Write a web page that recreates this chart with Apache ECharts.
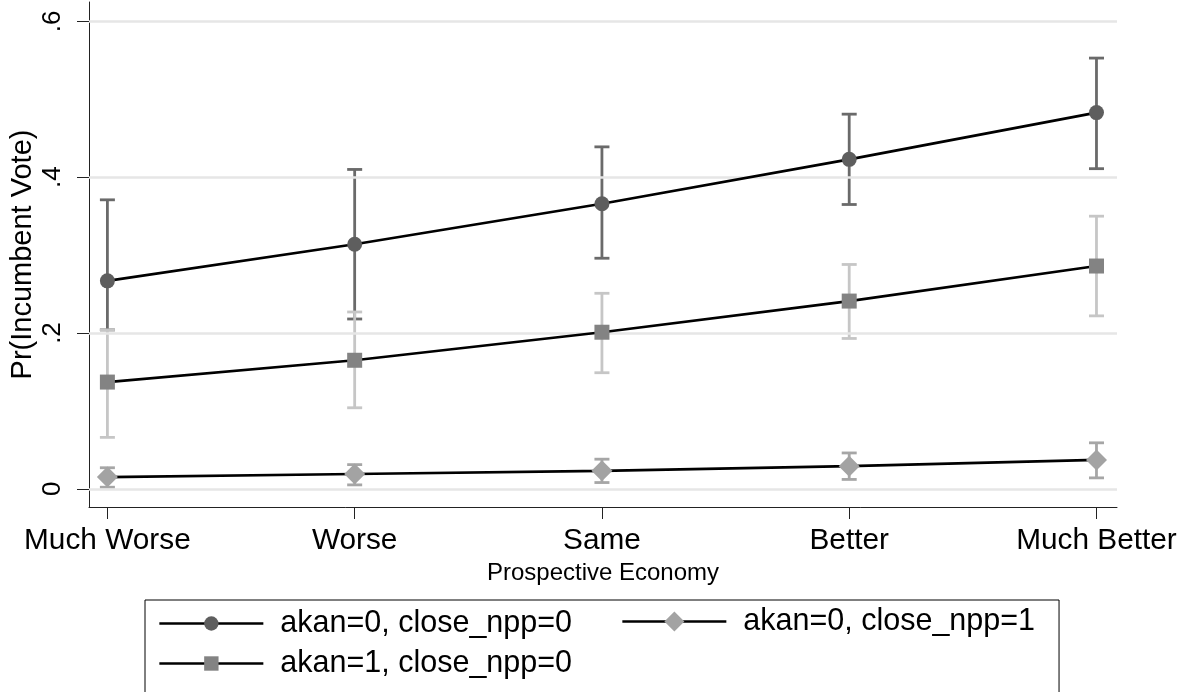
<!DOCTYPE html>
<html><head><meta charset="utf-8">
<script src="https://cdn.jsdelivr.net/npm/echarts@6/dist/echarts.min.js"></script>
<style>html,body{margin:0;padding:0;background:#fff}#c{width:1187px;height:692px}</style>
</head><body><div id="c"></div>
<script>
const categories = ['Much Worse', 'Worse', 'Same', 'Better', 'Much Better'];
const xPositions = [1, 2, 3, 4, 5];
const yTicks = [0, 0.2, 0.4, 0.6];
const yTickLabels = ['0', '.2', '.4', '.6'];

const names = ['akan=0, close_npp=0', 'akan=0, close_npp=1', 'akan=1, close_npp=0'];

// akan=0, close_npp=0 (circle)
const est00 = [0.267, 0.314, 0.366, 0.423, 0.483];
const lo00  = [0.204, 0.218, 0.296, 0.365, 0.411];
const hi00  = [0.371, 0.410, 0.439, 0.481, 0.553];
// akan=0, close_npp=1 (diamond)
const est01 = [0.015, 0.019, 0.023, 0.029, 0.037];
const lo01  = [0.002, 0.005, 0.008, 0.012, 0.014];
const hi01  = [0.027, 0.031, 0.038, 0.046, 0.059];
// akan=1, close_npp=0 (square)
const est10 = [0.137, 0.165, 0.201, 0.241, 0.286];
const lo10  = [0.066, 0.104, 0.149, 0.193, 0.222];
const hi10  = [0.204, 0.227, 0.251, 0.288, 0.350];

const FONT = '"Liberation Sans", Arial, sans-serif';

function pts(est) { return xPositions.map((x, i) => [x, est[i]]); }
function ci(lo, hi) { return xPositions.map((x, i) => [x, lo[i], hi[i]]); }

function ciRender(color) {
  return function (params, api) {
    const x = api.value(0), lo = api.value(1), hi = api.value(2);
    const a = api.coord([x, lo]), b = api.coord([x, hi]);
    const hw = 7.5;
    const style = { stroke: color, lineWidth: 2.8, fill: null };
    return { type: 'group', children: [
      { type: 'line', shape: { x1: a[0], y1: a[1], x2: b[0], y2: b[1] }, style: style },
      { type: 'line', shape: { x1: a[0] - hw, y1: a[1], x2: a[0] + hw, y2: a[1] }, style: style },
      { type: 'line', shape: { x1: b[0] - hw, y1: b[1], x2: b[0] + hw, y2: b[1] }, style: style }
    ]};
  };
}

function ciSeries(name, lo, hi, color, z) {
  return { type: 'custom', name: name, data: ci(lo, hi), renderItem: ciRender(color),
    encode: { x: 0, y: [1, 2] }, z: z, silent: true };
}
function lineSeries(name, est, symbol, size, color) {
  return { type: 'line', name: name, data: pts(est), symbol: symbol, symbolSize: size,
    itemStyle: { color: color }, lineStyle: { color: '#000', width: 2.7 }, z: 10,
    emphasis: { disabled: true }, silent: true };
}
function legendOf(name, left, top, itemHeight, padding, border) {
  return { data: [name], left: left, top: top, orient: 'horizontal',
    itemWidth: 104, itemHeight: itemHeight, selectedMode: false,
    borderColor: '#000', borderWidth: border ? 1 : 0, padding: padding,
    lineStyle: { width: 2.7, color: '#000' },
    textStyle: { fontSize: 30.5, color: '#000', fontFamily: FONT, padding: [0, 0, 0, 12] } };
}

const chart = echarts.init(document.getElementById('c'), null, { renderer: 'canvas' });
chart.setOption({
  animation: false,
  backgroundColor: '#fff',
  textStyle: { fontFamily: FONT },
  grid: { left: 89, right: 70, top: 2, bottom: 185, containLabel: false, outerBoundsMode: 'none' },
  xAxis: {
    type: 'value', min: 0.9256, max: 5.083,
    axisLine: { show: true, onZero: false, lineStyle: { color: '#222', width: 1 } },
    axisTick: { show: true, customValues: xPositions, length: 12, lineStyle: { color: '#222', width: 1 } },
    axisLabel: { customValues: xPositions, formatter: v => categories[Math.round(v) - 1],
      fontSize: 29.8, color: '#000', margin: 19, fontFamily: FONT },
    splitLine: { show: false },
    name: 'Prospective Economy', nameLocation: 'middle', nameGap: 54, nameMoveOverlap: false,
    nameTextStyle: { fontSize: 24, color: '#000', fontFamily: FONT }
  },
  yAxis: {
    type: 'value', min: -0.0234, max: 0.625,
    axisLine: { show: true, lineStyle: { color: '#222', width: 1 } },
    axisTick: { show: true, customValues: yTicks, length: 12, lineStyle: { color: '#222', width: 1 } },
    axisLabel: { customValues: yTicks, formatter: v => yTickLabels[yTicks.findIndex(t => Math.abs(t - v) < 1e-6)],
      rotate: 90, fontSize: 26, color: '#000', margin: 23, fontFamily: FONT },
    splitLine: { show: false },
    name: 'Pr(Incumbent Vote)', nameLocation: 'middle', nameGap: 52, nameMoveOverlap: false,
    nameTextStyle: { fontSize: 29, color: '#000', fontFamily: FONT }
  },
  legend: [
    legendOf(names[0], 145, 600, 18, [8, 487, 80, 13], true),
    legendOf(names[1], 621, 598, 25, [8, 0, 8, 0], false),
    legendOf(names[2], 145, 640, 18, [8, 13, 8, 13], false)
  ],
  series: [
    { type: 'line', name: 'grid', data: [], z: 0, silent: true,
      markLine: { silent: true, symbol: 'none', label: { show: false },
        lineStyle: { color: '#e6e6e6', width: 2.5, type: 'solid' },
        data: yTicks.map(t => ({ yAxis: t })) } },
    ciSeries('ci00', lo00, hi00, '#6a6a6a', 2),
    ciSeries('ci01', lo01, hi01, '#a6a6a6', 3),
    ciSeries('ci10', lo10, hi10, '#c6c6c6', 4),
    lineSeries(names[0], est00, 'circle', 15, '#5e5e5e'),
    lineSeries(names[1], est01, 'diamond', 21, '#a3a3a3'),
    lineSeries(names[2], est10, 'rect', 15, '#838383')
  ]
});
</script></body></html>
